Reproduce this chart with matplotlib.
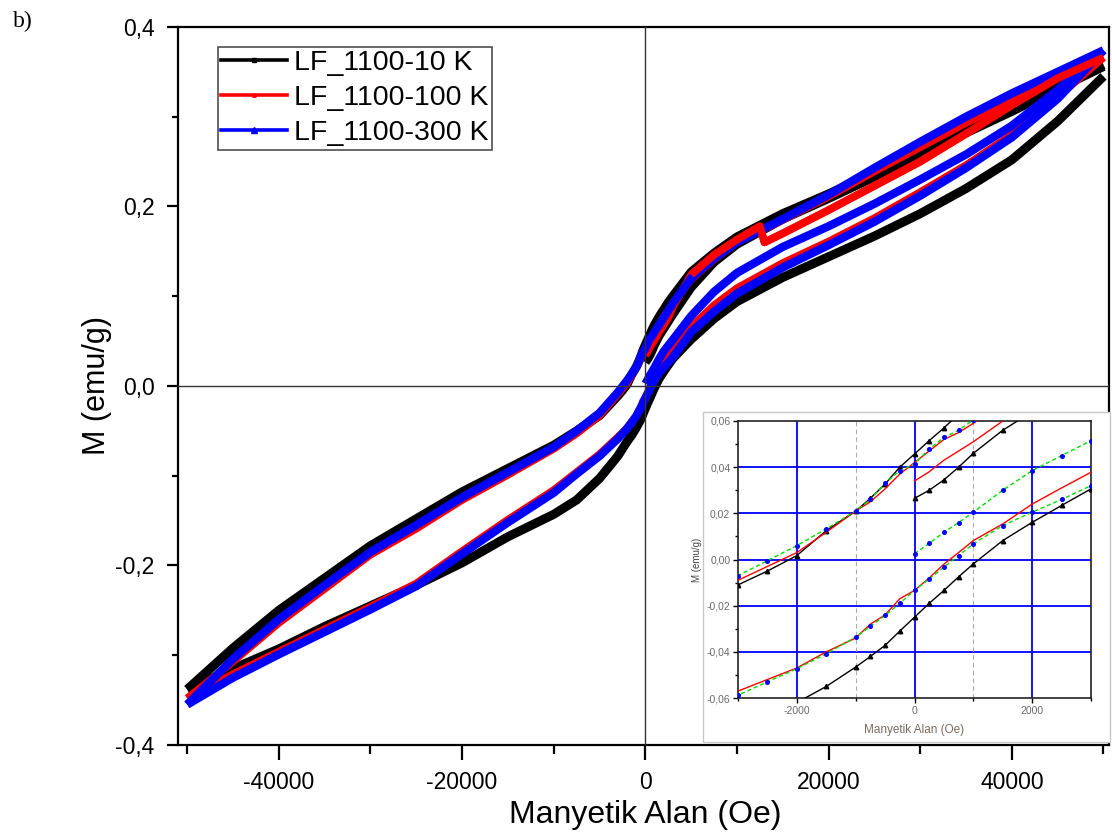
import matplotlib
matplotlib.use("Agg")
import matplotlib.pyplot as plt
from matplotlib.lines import Line2D
from matplotlib.patches import Rectangle
from matplotlib.ticker import FuncFormatter, FixedLocator

# ---------------- data ----------------
series_labels = ["LF_1100-10 K", "LF_1100-100 K", "LF_1100-300 K"]
series_colors = ["#000000", "#ff0000", "#0000ff"]

# descending branch (+50 kOe -> -50 kOe)
H_DESC = [50000, 45000, 40000, 35000, 30000, 25000, 20000, 15000, 10000, 7500, 5000,
          3000, 2500, 2000, 1500, 1000, 750, 500, 250, 0, -250, -500, -750, -1000,
          -1500, -2000, -2500, -3000, -5000, -7500, -10000, -15000, -20000, -25000,
          -30000, -35000, -40000, -45000, -50000]
M_DESC_10K = [0.358, 0.334, 0.310, 0.287, 0.262, 0.238, 0.214, 0.192, 0.166, 0.148, 0.127,
              0.100, 0.093, 0.085, 0.077, 0.068, 0.063, 0.057, 0.0515, 0.0457, 0.040, 0.0327,
              0.0265, 0.021, 0.0125, 0.0017, -0.005, -0.011, -0.033, -0.050, -0.066, -0.092,
              -0.118, -0.148, -0.178, -0.214, -0.250, -0.292, -0.338]
M_DESC_100K = [0.366, 0.343, 0.318, 0.293, 0.266, 0.239, 0.211, 0.185, 0.160, 0.141, 0.119,
               0.091, 0.084, 0.077, 0.068, 0.059, 0.055, 0.052, 0.047, 0.042, 0.037, 0.0306,
               0.025, 0.021, 0.0118, 0.003, -0.003, -0.009, -0.033, -0.053, -0.070, -0.099,
               -0.127, -0.159, -0.188, -0.226, -0.264, -0.307, -0.348]
M_DESC_300K = [0.374, 0.350, 0.326, 0.300, 0.272, 0.243, 0.213, 0.186, 0.160, 0.142, 0.120,
               0.092, 0.084, 0.076, 0.068, 0.0605, 0.056, 0.0529, 0.0479, 0.0414, 0.0385, 0.033,
               0.026, 0.021, 0.0133, 0.006, -0.0005, -0.007, -0.030, -0.050, -0.068, -0.096,
               -0.124, -0.155, -0.185, -0.222, -0.260, -0.304, -0.355]

# ascending branch (-50 kOe -> +50 kOe)
H_ASC = [-50000, -45000, -40000, -35000, -30000, -25000, -20000, -15000, -10000, -7500,
         -5000, -3000, -2500, -2000, -1500, -1000, -750, -500, -250, 0, 250, 500, 750, 1000,
         1500, 2000, 2500, 3000, 5000, 7500, 10000, 15000, 20000, 25000, 30000, 35000,
         40000, 45000, 50000]
M_ASC_10K = [-0.338, -0.315, -0.293, -0.268, -0.245, -0.222, -0.197, -0.168, -0.143, -0.127,
             -0.103, -0.078, -0.070, -0.062, -0.055, -0.0466, -0.042, -0.0372, -0.031, -0.025,
             -0.019, -0.0134, -0.0075, -0.0019, 0.0082, 0.0161, 0.0234, 0.0306, 0.052, 0.075,
             0.094, 0.121, 0.144, 0.167, 0.192, 0.220, 0.252, 0.295, 0.345]
M_ASC_100K = [-0.348, -0.321, -0.296, -0.271, -0.246, -0.220, -0.184, -0.149, -0.116, -0.096,
              -0.076, -0.057, -0.052, -0.047, -0.040, -0.034, -0.028, -0.024, -0.017, -0.0134,
              -0.008, -0.002, 0.003, 0.0082, 0.0154, 0.024, 0.031, 0.0378, 0.066, 0.090,
              0.109, 0.137, 0.161, 0.187, 0.216, 0.246, 0.280, 0.322, 0.366]
M_ASC_300K = [-0.355, -0.325, -0.299, -0.274, -0.249, -0.223, -0.187, -0.152, -0.119, -0.098,
              -0.078, -0.0588, -0.053, -0.0473, -0.0408, -0.0336, -0.029, -0.0242, -0.019,
              -0.0134, -0.0084, -0.0033, 0.0017, 0.0068, 0.0147, 0.0205, 0.026, 0.032, 0.060,
              0.083, 0.103, 0.132, 0.157, 0.183, 0.212, 0.243, 0.277, 0.320, 0.374]

# initial curves (0 -> +50 kOe)
H_INIT = [0, 250, 500, 750, 1000, 1500, 2000, 2500, 3000, 5000, 7500, 10000, 15000,
          20000, 25000, 30000, 35000, 40000, 45000, 50000]
M_INIT_10K = [0.0265, 0.030, 0.0345, 0.040, 0.046, 0.056, 0.064, 0.072, 0.080, 0.110, 0.138,
              0.158, 0.186, 0.209, 0.233, 0.257, 0.282, 0.306, 0.331, 0.356]
H_INIT_100K = [0, 250, 500, 750, 1000, 1500, 2000, 2500, 3000, 5000, 7500, 10000, 12500,
               13000, 15000, 20000, 25000, 30000, 35000, 40000, 45000, 50000]
M_INIT_100K = [0.034, 0.038, 0.043, 0.047, 0.051, 0.060, 0.068, 0.076, 0.088, 0.124, 0.146,
               0.163, 0.178, 0.160, 0.170, 0.196, 0.223, 0.250, 0.281, 0.313, 0.343, 0.366]
M_INIT_300K = [0.0025, 0.007, 0.0118, 0.016, 0.0205, 0.030, 0.0385, 0.045, 0.0515, 0.078,
               0.105, 0.126, 0.155, 0.178, 0.203, 0.230, 0.258, 0.290, 0.330, 0.374]

x_major = [-40000, -20000, 0, 20000, 40000]
x_minor = [-50000, -30000, -10000, 10000, 30000, 50000]
y_major = [-0.4, -0.2, 0.0, 0.2, 0.4]
y_minor = [-0.3, -0.1, 0.1, 0.3]
in_x_major = [-2000, 0, 2000]
in_x_minor = [-3000, -1000, 1000, 3000]
in_y_major = [-0.06, -0.04, -0.02, 0.0, 0.02, 0.04, 0.06]
in_y_minor = [-0.05, -0.03, -0.01, 0.01, 0.03, 0.05]

series = [
    (H_DESC, M_DESC_10K, H_ASC, M_ASC_10K, H_INIT, M_INIT_10K),
    (H_DESC, M_DESC_100K, H_ASC, M_ASC_100K, H_INIT_100K, M_INIT_100K),
    (H_DESC, M_DESC_300K, H_ASC, M_ASC_300K, H_INIT, M_INIT_300K),
]

plt.rcParams['font.family'] = ['Liberation Sans', 'DejaVu Sans']

fig = plt.figure(figsize=(11.12, 8.4), dpi=100)
ax = fig.add_axes([0.1601, 0.1131, 0.8372, 0.8548])

main_lw = [6.5, 5.5, 6.0]
for i, (hd, md, ha, ma, hi, mi) in enumerate(series):
    c = series_colors[i]
    for h, m in ((hd, md), (ha, ma), (hi, mi)):
        ax.plot(h, m, color=c, lw=main_lw[i], solid_capstyle='butt',
                solid_joinstyle='round', zorder=2 + i)

# the part of the red initial curve above 5 kOe is drawn on top in the picture
k = H_INIT_100K.index(5000)
ax.plot(H_INIT_100K[k:], M_INIT_100K[k:], color=series_colors[1], lw=main_lw[1],
        solid_capstyle='butt', solid_joinstyle='round', zorder=5)

ax.axhline(0, color='#333333', lw=1.0, zorder=6)
ax.axvline(0, color='#333333', lw=1.0, zorder=6)

ax.set_xlim(-51000, 50600)
ax.set_ylim(-0.4, 0.4)
ax.xaxis.set_major_locator(FixedLocator(x_major))
ax.xaxis.set_minor_locator(FixedLocator(x_minor))
ax.yaxis.set_major_locator(FixedLocator(y_major))
ax.yaxis.set_minor_locator(FixedLocator(y_minor))
ax.xaxis.set_major_formatter(FuncFormatter(lambda v, p: f"{int(round(v))}"))
ax.yaxis.set_major_formatter(FuncFormatter(
    lambda v, p: ("0,0" if abs(v) < 1e-9 else f"{v:.1f}".replace('.', ','))))
ax.tick_params(axis='x', which='major', direction='out', length=11, width=1.6,
               labelsize=16.5, pad=8)
ax.tick_params(axis='x', which='minor', direction='out', length=6.5, width=1.6)
ax.tick_params(axis='y', which='major', direction='out', length=8, width=1.6,
               labelsize=16.5, pad=9)
ax.tick_params(axis='y', which='minor', direction='out', length=4.5, width=1.6)
for s in ax.spines.values():
    s.set_linewidth(1.6)

ax.set_xlabel("Manyetik Alan (Oe)", fontsize=23)
ax.xaxis.label.set_va('center')
ax.xaxis.set_label_coords(0.5016, -0.0975)
ax.set_ylabel("M (emu/g)", fontsize=22)
ax.yaxis.label.set_va('center')
ax.yaxis.set_label_coords(-0.087, 0.5)

handles = [
    Line2D([], [], color=series_colors[0], lw=2.6, marker='s', ms=2.5),
    Line2D([], [], color=series_colors[1], lw=2.6, marker='^', ms=2.5),
    Line2D([], [], color=series_colors[2], lw=2.6, marker='^', ms=5),
]
leg = ax.legend(handles, series_labels, loc='upper left',
                bbox_to_anchor=(218 / 1112, 1 - 46.5 / 840), bbox_transform=fig.transFigure,
                fontsize=20.5, frameon=True, fancybox=False, borderpad=0.12,
                labelspacing=0.32, handlelength=2.3, handletextpad=0.25, borderaxespad=0)
leg.get_frame().set_edgecolor('#222222')
leg.get_frame().set_linewidth(1.2)
leg.set_zorder(10)

fig.text(13 / 1112, 1 - 21 / 840, "b)", family=['Liberation Serif', 'DejaVu Serif'],
         fontsize=17, va='center', ha='left')

# ---------------- inset ----------------
fig.add_artist(Rectangle((703 / 1112, 1 - 742 / 840), 407 / 1112, 330 / 840,
                         transform=fig.transFigure, facecolor='white',
                         edgecolor='#c8c8c8', lw=1.0, zorder=1))
axin = fig.add_axes([738 / 1112, 1 - 698 / 840, 353 / 1112, 277 / 840], zorder=2)

for x in in_x_major:
    axin.axvline(x, color='#0000ff', lw=1.3, zorder=1)
for y in in_y_major[1:-1]:
    axin.axhline(y, color='#0000ff', lw=1.3, zorder=1)
for x in (-1000, 1000):
    axin.axvline(x, color='#aaaaaa', lw=0.8, ls=(0, (4, 3)), zorder=1)

hd, md, ha, ma, hi, mi = series[0]
for h, m in ((hd, md), (ha, ma), (hi, mi)):
    axin.plot(h, m, color='black', lw=1.0, marker='^', ms=3.2, zorder=3)
hd, md, ha, ma, hi, mi = series[1]
for h, m in ((hd, md), (ha, ma), (hi, mi)):
    axin.plot(h, m, color='#ff0000', lw=1.0, zorder=4)
hd, md, ha, ma, hi, mi = series[2]
for h, m in ((hd, md), (ha, ma), (hi, mi)):
    axin.plot(h, m, color='#00dd00', lw=1.0, ls=(0, (3, 2)), marker='o', ms=2.6,
              mfc='#0000ff', mec='#0000ff', zorder=5)

axin.set_xlim(-3000, 3000)
axin.set_ylim(-0.06, 0.06)
axin.xaxis.set_major_locator(FixedLocator(in_x_major))
axin.xaxis.set_minor_locator(FixedLocator(in_x_minor))
axin.yaxis.set_major_locator(FixedLocator(in_y_major))
axin.yaxis.set_minor_locator(FixedLocator(in_y_minor))
axin.xaxis.set_major_formatter(FuncFormatter(lambda v, p: f"{int(round(v))}"))
axin.yaxis.set_major_formatter(FuncFormatter(
    lambda v, p: ("0,00" if abs(v) < 1e-9 else f"{v:.2f}".replace('.', ','))))
axin.tick_params(which='major', direction='out', length=3.5, width=1.0,
                 labelsize=7.5, labelcolor='#6a6a6a', pad=2)
axin.tick_params(which='minor', direction='out', length=2.2, width=1.0)
for s in axin.spines.values():
    s.set_linewidth(1.2)
    s.set_color('#222222')
axin.set_xlabel("Manyetik Alan (Oe)", fontsize=8.5, color='#7a6a60', labelpad=6)
axin.set_ylabel("M (emu/g)", fontsize=7, color='#444444', labelpad=3)

fig.savefig("out.png", dpi=100)
